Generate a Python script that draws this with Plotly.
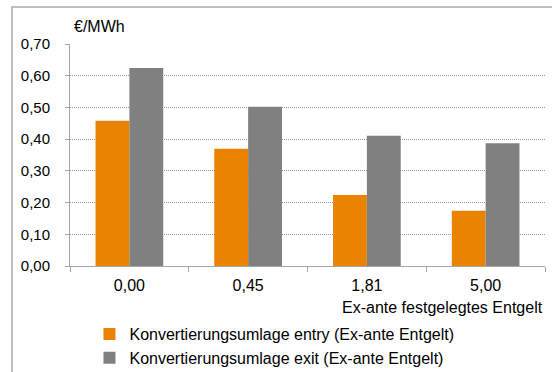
import plotly.graph_objects as go

categories = ["0,00", "0,45", "1,81", "5,00"]
entry_values = [0.458, 0.370, 0.224, 0.174]
exit_values = [0.624, 0.502, 0.411, 0.387]
series_names = ["Konvertierungsumlage entry (Ex-ante Entgelt)",
                "Konvertierungsumlage exit (Ex-ante Entgelt)"]
y_ticks = [0.0, 0.1, 0.2, 0.3, 0.4, 0.5, 0.6, 0.7]
y_tick_labels = ["0,00", "0,10", "0,20", "0,30", "0,40", "0,50", "0,60", "0,70"]

FONT = "Liberation Sans, Arial, sans-serif"

fig = go.Figure()
fig.add_trace(go.Bar(x=categories, y=entry_values, name=series_names[0],
                     marker=dict(color="#E98300", line=dict(width=0))))
fig.add_trace(go.Bar(x=categories, y=exit_values, name=series_names[1],
                     marker=dict(color="#808080", line=dict(width=0))))

fig.update_layout(
    width=552, height=372,
    margin=dict(l=70, r=7, t=44, b=106, autoexpand=False),
    paper_bgcolor="white", plot_bgcolor="white",
    font=dict(family=FONT, size=16, color="#000000"),
    barmode="group", bargap=0.43, bargroupgap=0,
    showlegend=True,
    legend=dict(x=0.041, xanchor="left", y=-0.23, yanchor="top",
                font=dict(size=16, family=FONT), bgcolor="rgba(0,0,0,0)",
                tracegroupgap=0),
    xaxis=dict(type="category", showline=True, linecolor="#A6A6A6", linewidth=1,
               ticks="outside", tickson="boundaries", ticklen=5, tickcolor="#A6A6A6",
               ticklabelstandoff=5,
               showgrid=False, tickfont=dict(size=16)),
    yaxis=dict(range=[0, 0.7], tickvals=y_ticks, ticktext=y_tick_labels,
               showline=True, linecolor="#A6A6A6", linewidth=1,
               ticks="outside", ticklen=4, tickcolor="#A6A6A6",
               ticklabelstandoff=12,
               showgrid=True, gridcolor="#999999", griddash="1px,1px", gridwidth=1,
               zeroline=False, tickfont=dict(size=15)),
    annotations=[
        dict(text="€/MWh", xref="paper", yref="paper", x=0.005, y=1.081,
             xanchor="left", yanchor="middle", showarrow=False,
             font=dict(size=16, family=FONT)),
        dict(text="Ex-ante festgelegtes Entgelt", xref="paper", yref="paper",
             x=1.0, y=-0.186, xanchor="right", yanchor="middle", showarrow=False,
             font=dict(size=16, family=FONT)),
    ],
    shapes=[
        dict(type="rect", xref="paper", yref="paper",
             x0=-0.122, x1=1.2, y0=-0.6, y1=1.167,
             line=dict(color="#BFBFBF", width=2), fillcolor="rgba(0,0,0,0)",
             layer="below"),
    ],
)

fig.write_html("out.html", config={"displayModeBar": False},
               post_script="document.body.style.margin='0';document.body.style.overflow='hidden';")
